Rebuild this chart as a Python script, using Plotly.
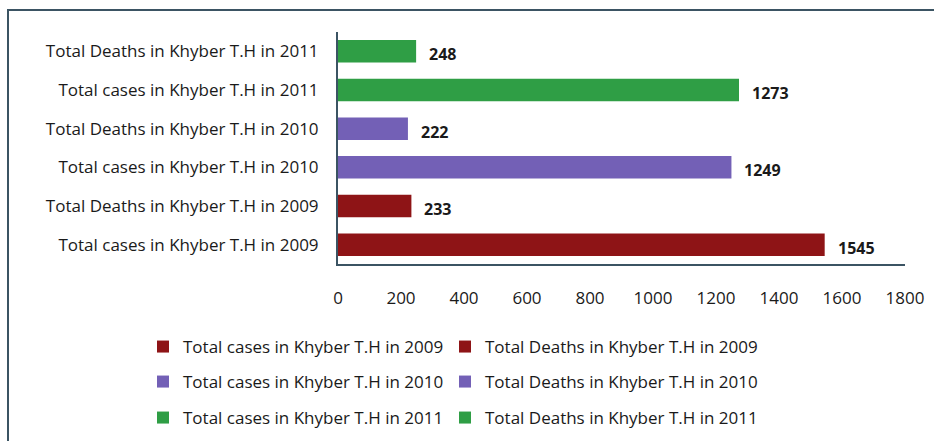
import plotly.graph_objects as go

categories = [
    "Total cases in Khyber T.H in 2009",
    "Total Deaths in Khyber T.H in 2009",
    "Total cases in Khyber T.H in 2010",
    "Total Deaths in Khyber T.H in 2010",
    "Total cases in Khyber T.H in 2011",
    "Total Deaths in Khyber T.H in 2011",
]
values = [1545, 233, 1249, 222, 1273, 248]
colors = ["#8E1416", "#8E1416", "#7360B6", "#7360B6", "#2F9E45", "#2F9E45"]
x_ticks = [0, 200, 400, 600, 800, 1000, 1200, 1400, 1600, 1800]

FONT = "Open Sans"
TXT = "#1a1a1a"
PLOT_TOP, PLOT_BOTTOM, PLOT_LEFT, PLOT_RIGHT = 32, 264, 338, 905
PH = PLOT_BOTTOM - PLOT_TOP
PW = PLOT_RIGHT - PLOT_LEFT

def px_y(y):
    return (PLOT_BOTTOM - y) / PH

def px_x(x):
    return (x - PLOT_LEFT) / PW

legend_ids = ["legend", "legend2", "legend3", "legend4", "legend5", "legend6"]
col_x = [px_x(143), px_x(445)]
row_y = [px_y(347), px_y(382), px_y(418)]
legend_pos = [(0, 0), (1, 0), (0, 1), (1, 1), (0, 2), (1, 2)]

fig = go.Figure()
for cat, val, col, lg in zip(categories, values, colors, legend_ids):
    fig.add_trace(go.Bar(
        y=[cat], x=[val], orientation="h", name=cat,
        marker=dict(color=col, line=dict(width=0)),
        legend=lg, showlegend=True,
    ))
    fig.add_annotation(
        x=val, y=cat, xref="x", yref="y", text=f"<b>{val}</b>",
        showarrow=False, xanchor="left", yanchor="middle",
        xshift=11, yshift=-3, font=dict(family=FONT, size=16, color=TXT),
    )

legends = {}
for lg, (c, r) in zip(legend_ids, legend_pos):
    legends[lg] = dict(
        orientation="h", x=col_x[c], y=row_y[r],
        font=dict(family=FONT, size=17, color=TXT),
        xanchor="left", yanchor="middle", bgcolor="rgba(0,0,0,0)",
        itemwidth=30, visible=True,
    )

fig.update_layout(
    width=934, height=441,
    showlegend=True,
    margin=dict(l=PLOT_LEFT, r=934 - PLOT_RIGHT, t=PLOT_TOP, b=441 - PLOT_BOTTOM,
                autoexpand=False),
    paper_bgcolor="white", plot_bgcolor="white",
    barmode="overlay", bargap=0.42,
    font=dict(family=FONT, size=17, color=TXT),
    xaxis=dict(
        range=[0, 1800], tickvals=x_ticks, ticktext=[str(v) for v in x_ticks],
        showgrid=False, zeroline=False, showline=True, linecolor="#3B5463", linewidth=2,
        ticks="outside", ticklen=18, tickcolor="rgba(0,0,0,0)",
        tickfont=dict(family=FONT, size=17, color=TXT),
    ),
    yaxis=dict(
        categoryorder="array", categoryarray=categories,
        showgrid=False, zeroline=False, showline=True, linecolor="#3B5463", linewidth=2,
        ticks="outside", ticklen=14, tickcolor="rgba(0,0,0,0)",
        tickfont=dict(family=FONT, size=17, color=TXT),
    ),
    shapes=[dict(
        type="rect", xref="paper", yref="paper",
        x0=px_x(8), x1=2.0, y0=-2.0, y1=px_y(10),
        line=dict(color="#3B5463", width=2), fillcolor="rgba(0,0,0,0)", layer="below",
    )],
    **legends,
)

fig.write_html("out.html", config={"displayModeBar": False},
               post_script="document.body.style.margin='0';")
